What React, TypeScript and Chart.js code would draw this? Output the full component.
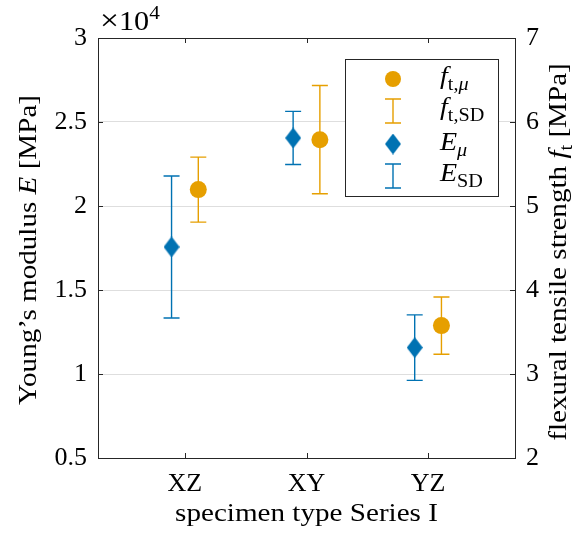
import React, { useEffect, useRef } from 'react';
import { Chart, registerables } from 'chart.js';
Chart.register(...registerables);

const categories = ['XZ', 'XY', 'YZ'];
const eMean = [17560, 24050, 11570];
const eSD = [4230, 1580, 1950];
const fMean = [5.195, 5.79, 3.576];
const fSD = [0.387, 0.645, 0.34];
const categoryPositions = [1, 2, 3];
const leftMin = 5000;
const leftMax = 30000;
const leftStep = 5000;
const rightMin = 2;
const rightMax = 7;
const rightStep = 1;

const OFFSET = 0.11;
const BLUE = '#0072B2';
const ORANGE = '#E69F00';
const AX = '#262626';
const FONT = '"Liberation Serif", "DejaVu Serif", serif';
const TICK_SIZE = 26;
const TITLE_SIZE = 26;
const STRETCH = 1.12;

type Seg = { t: string; it?: boolean; sub?: boolean; sup?: boolean; size?: number };

function drawRich(
  ctx: CanvasRenderingContext2D,
  segs: Seg[],
  x: number,
  y: number,
  size: number,
  align: 'center' | 'left',
  stretch = STRETCH
) {
  const fontFor = (s: Seg) =>
    `${s.it ? 'italic ' : ''}${s.size ?? (s.sub || s.sup ? Math.round(size * 0.7) : size)}px ${FONT}`;
  let total = 0;
  const widths = segs.map((s) => {
    ctx.font = fontFor(s);
    const w = ctx.measureText(s.t).width;
    total += w;
    return w;
  });
  ctx.save();
  ctx.translate(x, y);
  ctx.scale(stretch, 1);
  let cx = align === 'center' ? -total / 2 : 0;
  ctx.textBaseline = 'alphabetic';
  ctx.textAlign = 'left';
  segs.forEach((s, i) => {
    ctx.font = fontFor(s);
    const dy = s.sub ? size * 0.22 : s.sup ? -size * 0.42 : 0;
    ctx.fillText(s.t, cx, dy);
    cx += widths[i];
  });
  ctx.restore();
}

function makeDiamond(w: number, h: number, color: string) {
  const c = document.createElement('canvas');
  c.width = w;
  c.height = h;
  const g = c.getContext('2d')!;
  g.fillStyle = color;
  g.beginPath();
  g.moveTo(w / 2, 0);
  g.lineTo(w, h / 2);
  g.lineTo(w / 2, h);
  g.lineTo(0, h / 2);
  g.closePath();
  g.fill();
  return c;
}

const errorBarPlugin = {
  id: 'errorBars',
  beforeDatasetsDraw(chart: any) {
    const ctx = chart.ctx as CanvasRenderingContext2D;
    const xs = chart.scales.x;
    chart.data.datasets.forEach((ds: any) => {
      if (!ds.err) return;
      const ys = chart.scales[ds.yAxisID];
      ctx.save();
      ctx.strokeStyle = ds.errColor;
      ctx.lineWidth = 1.4;
      ds.data.forEach((p: any, i: number) => {
        const px = xs.getPixelForValue(p.x);
        const top = ys.getPixelForValue(p.y + ds.err[i]);
        const bot = ys.getPixelForValue(p.y - ds.err[i]);
        ctx.beginPath();
        ctx.moveTo(px, top);
        ctx.lineTo(px, bot);
        ctx.moveTo(px - 8, top);
        ctx.lineTo(px + 8, top);
        ctx.moveTo(px - 8, bot);
        ctx.lineTo(px + 8, bot);
        ctx.stroke();
      });
      ctx.restore();
    });
  },
};

function makeDecorPlugin(diamond: HTMLCanvasElement) {
  return {
    id: 'decor',
    afterDraw(chart: any) {
      const ctx = chart.ctx as CanvasRenderingContext2D;
      const a = chart.chartArea;
      const xs = chart.scales.x;
      const yl = chart.scales.y;
      const yr = chart.scales.y1;
      ctx.save();
      ctx.strokeStyle = AX;
      ctx.lineWidth = 1;
      ctx.strokeRect(Math.round(a.left) + 0.5, Math.round(a.top) + 0.5, Math.round(a.right - a.left), Math.round(a.bottom - a.top));
      const TL = 5;
      ctx.beginPath();
      xs.ticks.forEach((t: any) => {
        const px = Math.round(xs.getPixelForValue(t.value)) + 0.5;
        ctx.moveTo(px, a.bottom);
        ctx.lineTo(px, a.bottom - TL);
        ctx.moveTo(px, a.top);
        ctx.lineTo(px, a.top + TL);
      });
      yl.ticks.forEach((t: any) => {
        const py = Math.round(yl.getPixelForValue(t.value)) + 0.5;
        ctx.moveTo(a.left, py);
        ctx.lineTo(a.left + TL, py);
      });
      yr.ticks.forEach((t: any) => {
        const py = Math.round(yr.getPixelForValue(t.value)) + 0.5;
        ctx.moveTo(a.right, py);
        ctx.lineTo(a.right - TL, py);
      });
      ctx.stroke();

      ctx.fillStyle = '#000000';
      drawRich(ctx, [{ t: '×', size: 30 }, { t: '10' }, { t: '4', sup: true }], a.left + 2, a.top - 8, 27, 'left');

      drawRich(ctx, [{ t: 'specimen type Series I' }], (a.left + a.right) / 2, 521, TITLE_SIZE, 'center');

      ctx.save();
      ctx.translate(36, 250);
      ctx.rotate(-Math.PI / 2);
      drawRich(ctx, [{ t: 'Young’s modulus ' }, { t: 'E', it: true }, { t: ' [MPa]' }], 0, 0, TITLE_SIZE, 'center');
      ctx.restore();

      ctx.save();
      ctx.translate(566, 252);
      ctx.rotate(-Math.PI / 2);
      drawRich(
        ctx,
        [{ t: 'flexural tensile strength ' }, { t: 'f', it: true }, { t: 't', sub: true }, { t: ' [MPa]' }],
        0,
        0,
        TITLE_SIZE,
        'center'
      );
      ctx.restore();

      const lx = 345, ly = 59, lw = 153, lh = 137;
      ctx.fillStyle = '#ffffff';
      ctx.fillRect(lx, ly, lw, lh);
      ctx.strokeStyle = AX;
      ctx.strokeRect(lx + 0.5, ly + 0.5, lw, lh);
      const mx = 393;
      const tx = 440;
      const rows = [79, 111, 144, 176];
      ctx.fillStyle = ORANGE;
      ctx.beginPath();
      ctx.arc(mx, rows[0], 8, 0, Math.PI * 2);
      ctx.fill();
      const eb = (yc: number, col: string) => {
        ctx.strokeStyle = col;
        ctx.lineWidth = 1.4;
        ctx.beginPath();
        ctx.moveTo(mx, yc - 12);
        ctx.lineTo(mx, yc + 12);
        ctx.moveTo(mx - 8, yc - 12);
        ctx.lineTo(mx + 8, yc - 12);
        ctx.moveTo(mx - 8, yc + 12);
        ctx.lineTo(mx + 8, yc + 12);
        ctx.stroke();
      };
      eb(rows[1], ORANGE);
      ctx.drawImage(diamond, mx - diamond.width / 2, rows[2] - diamond.height / 2);
      eb(rows[3], BLUE);
      ctx.fillStyle = '#000000';
      const LS = 25;
      drawRich(ctx, [{ t: 'f', it: true }, { t: 't,', sub: true }, { t: 'μ', sub: true, it: true }], tx, rows[0] + 5, LS, 'left');
      drawRich(ctx, [{ t: 'f', it: true }, { t: 't,SD', sub: true }], tx, rows[1] + 4, LS, 'left');
      drawRich(ctx, [{ t: 'E', it: true }, { t: 'μ', sub: true, it: true }], tx, rows[2] + 6, LS, 'left');
      drawRich(ctx, [{ t: 'E', it: true }, { t: 'SD', sub: true }], tx, rows[3] + 5, LS, 'left');
      ctx.restore();
    },
  };
}

export default function App() {
  const ref = useRef<HTMLCanvasElement | null>(null);
  useEffect(() => {
    if (!ref.current) return;
    const diamond = makeDiamond(16, 21, BLUE);
    const chart = new Chart(ref.current, {
      type: 'scatter',
      data: {
        datasets: [
          {
            label: 'f_t,mu',
            yAxisID: 'y1',
            data: categoryPositions.map((c, i) => ({ x: c + OFFSET, y: fMean[i] })),
            pointStyle: 'circle',
            pointRadius: 8.5,
            backgroundColor: ORANGE,
            borderColor: ORANGE,
            borderWidth: 0,
            err: fSD,
            errColor: ORANGE,
          } as any,
          {
            label: 'E_mu',
            yAxisID: 'y',
            data: categoryPositions.map((c, i) => ({ x: c - OFFSET, y: eMean[i] })),
            pointStyle: diamond,
            pointRadius: 10,
            backgroundColor: BLUE,
            borderColor: BLUE,
            err: eSD,
            errColor: BLUE,
          } as any,
        ],
      },
      options: {
        animation: false,
        responsive: false,
        events: [],
        layout: { padding: { left: 0, right: 0, top: 38, bottom: 0 } },
        plugins: { legend: { display: false }, tooltip: { enabled: false } },
        scales: {
          x: {
            type: 'linear',
            min: 0.285,
            max: 3.715,
            afterBuildTicks: (s: any) => {
              s.ticks = categoryPositions.map((v) => ({ value: v }));
            },
            afterFit: (s: any) => {
              s.height = 75;
            },
            ticks: {
              callback: (v: any) => categories[categoryPositions.indexOf(Number(v))] ?? '',
              font: { family: FONT, size: TICK_SIZE },
              color: '#000000',
              padding: 11,
              maxRotation: 0,
            },
            grid: { display: false, drawTicks: false },
            border: { display: false },
          },
          y: {
            type: 'linear',
            position: 'left',
            min: leftMin,
            max: leftMax,
            afterFit: (s: any) => {
              s.width = 98;
            },
            ticks: {
              stepSize: leftStep,
              callback: (v: any) => String(Number(v) / 1e4),
              font: { family: FONT, size: TICK_SIZE },
              color: '#000000',
              padding: 11,
            },
            grid: { color: '#dedede', lineWidth: 1, drawTicks: false },
            border: { display: false },
          },
          y1: {
            type: 'linear',
            position: 'right',
            min: rightMin,
            max: rightMax,
            afterFit: (s: any) => {
              s.width = 59;
            },
            ticks: {
              stepSize: rightStep,
              font: { family: FONT, size: TICK_SIZE },
              color: '#000000',
              padding: 11,
            },
            grid: { display: false, drawTicks: false },
            border: { display: false },
          },
        },
      },
      plugins: [errorBarPlugin, makeDecorPlugin(diamond)],
    } as any);
    return () => chart.destroy();
  }, []);
  return (
    <div style={{ position: 'absolute', left: 0, top: 0, width: 574, height: 533, background: '#ffffff' }}>
      <canvas ref={ref} width={574} height={533} />
    </div>
  );
}
